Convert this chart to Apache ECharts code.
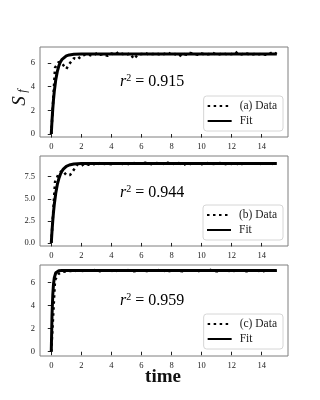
<!DOCTYPE html>
<html>
<head>
<meta charset="utf-8">
<script src="https://cdn.jsdelivr.net/npm/echarts@6/dist/echarts.min.js"></script>
<style>
  html, body { margin: 0; padding: 0; background: #fff; }
  #chart { width: 320px; height: 400px; }
</style>
</head>
<body>
<div id="chart"></div>
<script>
// sample times of the measured data
const tData = [0, 0.25, 0.5, 0.75, 1, 1.25, 1.5, 1.75, 2, 2.25, 2.5, 2.75, 3, 3.25, 3.5, 3.75,
  4, 4.25, 4.5, 4.75, 5, 5.25, 5.5, 5.75, 6, 6.25, 6.5, 6.75, 7, 7.25, 7.5, 7.75,
  8, 8.25, 8.5, 8.75, 9, 9.25, 9.5, 9.75, 10, 10.25, 10.5, 10.75, 11, 11.25, 11.5, 11.75,
  12, 12.25, 12.5, 12.75, 13, 13.25, 13.5, 13.75, 14, 14.25, 14.5, 14.75, 15];

const dataA = [0.0, 5.6, 6.1, 5.9, 5.5, 6.0, 6.4, 6.3, 6.6, 6.7, 6.7, 6.6, 6.8, 6.7, 6.75, 6.6,
  6.8, 6.7, 6.95, 6.75, 6.7, 6.8, 6.35, 6.7, 6.75, 6.85, 6.7, 6.75, 6.8, 6.7, 6.75, 6.9,
  6.7, 6.75, 6.55, 6.8, 6.7, 6.85, 6.75, 6.7, 6.8, 6.7, 6.75, 6.85, 6.7, 6.75, 6.8, 6.7,
  6.75, 6.95, 6.7, 6.75, 6.8, 6.7, 6.75, 6.7, 6.8, 6.7, 6.75, 6.95, 6.75];

const dataB = [0.0, 6.9, 7.9, 8.2, 7.7, 7.7, 8.3, 8.9, 8.75, 9.0, 8.85, 9.0, 8.8, 9.1, 8.95, 9.0,
  8.9, 9.0, 9.05, 8.95, 9.0, 8.85, 9.05, 9.0, 8.95, 9.1, 9.0, 8.9, 9.05, 9.0, 8.95, 9.1,
  8.9, 9.0, 9.05, 8.8, 9.0, 8.95, 9.05, 9.0, 8.9, 9.1, 9.0, 8.95, 9.0, 9.05, 8.9, 9.0,
  8.95, 9.1, 8.8, 9.0, 9.05, 8.95, 9.0, 9.05, 8.9, 9.0, 9.05, 8.95, 9.0];

const dataC = [0.0, 6.2, 6.75, 6.9, 6.95, 7.0, 6.95, 7.05, 7.0, 6.95, 7.05, 7.0, 7.1, 6.95, 7.0, 7.05,
  7.0, 6.95, 7.05, 7.0, 7.1, 7.0, 6.95, 7.0, 7.05, 7.0, 6.95, 7.05, 7.0, 7.1, 7.0, 6.95,
  7.0, 7.05, 7.0, 6.95, 7.05, 7.0, 7.0, 6.95, 7.05, 7.0, 7.1, 7.0, 6.95, 7.0, 7.05, 7.0,
  6.95, 7.0, 7.05, 7.0, 6.95, 7.0, 7.05, 7.0, 6.95, 7.0, 7.05, 7.0, 7.0];

// fitted curves
const tFit = [0, 0.05, 0.1, 0.15, 0.2, 0.3, 0.4, 0.5, 0.6, 0.7, 0.8, 1.0, 1.2, 1.5, 2, 3, 15];
const fitA = [0, 1.17, 2.13, 2.93, 3.59, 4.59, 5.27, 5.74, 6.06, 6.28, 6.43, 6.60, 6.68, 6.73, 6.75, 6.75, 6.75];
const fitB = [0, 1.37, 2.53, 3.51, 4.35, 5.65, 6.60, 7.27, 7.76, 8.11, 8.36, 8.67, 8.83, 8.94, 8.99, 9.0, 9.0];
const fitC = [0, 3.17, 4.91, 5.86, 6.38, 6.83, 6.96, 7.0, 7.01, 7.02, 7.02, 7.02, 7.02, 7.02, 7.02, 7.02, 7.02];

const r2 = ['0.915', '0.944', '0.959'];
const dataNames = ['(a) Data', '(b) Data', '(c) Data'];

const xTicks = [0, 2, 4, 6, 8, 10, 12, 14];
const yTicksA = [0, 2, 4, 6];
const yTicksB = [0, 2.5, 5, 7.5];
const yTicksC = [0, 2, 4, 6];

const serif = 'Liberation Serif';
const pair = (xs, ys) => xs.map((x, i) => [x, ys[i]]);

const panels = [
  { top: 47, height: 90, ymin: -0.25, ymax: 7.35, ticks: yTicksA, fmt: v => String(v), data: dataA, fit: fitA, legTop: 96, r2y: 82 },
  { top: 156, height: 90, ymin: -0.35, ymax: 9.85, ticks: yTicksB, fmt: v => v.toFixed(1), data: dataB, fit: fitB, legTop: 205, r2y: 193 },
  { top: 265, height: 91, ymin: -0.37, ymax: 7.5, ticks: yTicksC, fmt: v => String(v), data: dataC, fit: fitC, legTop: 314, r2y: 301 }
];

const chart = echarts.init(document.getElementById('chart'));

const grid = [], xAxis = [], yAxis = [], series = [], legend = [], graphic = [];
panels.forEach((p, i) => {
  grid.push({ left: 40, width: 248, top: p.top, height: p.height, show: true, borderColor: '#7f7f7f', borderWidth: 1 });
  xAxis.push({
    type: 'value', gridIndex: i, min: -0.75, max: 15.75,
    axisLine: { show: false },
    splitLine: { show: false },
    axisTick: { show: true, customValues: xTicks, length: 3.5, lineStyle: { color: '#222' } },
    axisLabel: { customValues: xTicks, fontFamily: serif, fontSize: 8.5, color: '#222', margin: 5 }
  });
  yAxis.push({
    type: 'value', gridIndex: i, min: p.ymin, max: p.ymax,
    axisLine: { show: false },
    splitLine: { show: false },
    axisTick: { show: true, customValues: p.ticks, length: 3.5, lineStyle: { color: '#222' } },
    axisLabel: { customValues: p.ticks, formatter: p.fmt, fontFamily: serif, fontSize: 8.5, color: '#222', margin: 5 }
  });
  series.push({
    name: dataNames[i], type: 'line', xAxisIndex: i, yAxisIndex: i, color: '#000',
    data: pair(tData, p.data), showSymbol: false, symbol: 'none',
    lineStyle: { color: '#000', width: 2.5, type: [2.5, 3.5] }
  });
  series.push({
    name: 'Fit', type: 'line', xAxisIndex: i, yAxisIndex: i, color: '#000',
    data: pair(tFit, p.fit), showSymbol: false, symbol: 'none',
    lineStyle: { color: '#000', width: 3 }
  });
  legend.push({
    data: [dataNames[i], 'Fit'], orient: 'vertical', right: 37, top: p.legTop,
    itemWidth: 24, itemHeight: 12, itemGap: 3,
    itemStyle: { color: 'rgba(0,0,0,0)', borderWidth: 0 },
    padding: [4, 6, 4, 3], borderColor: '#d6d6d6', borderWidth: 1, borderRadius: 3,
    backgroundColor: '#fff',
    textStyle: { fontFamily: serif, fontSize: 11.5, color: '#222', padding: [0, 0, 0, 3] }
  });
  graphic.push({
    type: 'text', left: 120, top: p.r2y - 9,
    style: {
      text: '{i|r}{s|2}{n| = ' + r2[i] + '}',
      rich: {
        i: { fontFamily: serif, fontStyle: 'italic', fontSize: 16, color: '#111', lineHeight: 18 },
        s: { fontFamily: serif, fontSize: 10, color: '#111', verticalAlign: 'top', lineHeight: 10 },
        n: { fontFamily: serif, fontSize: 16, color: '#111', lineHeight: 18 }
      }
    }
  });
});

// axis titles
graphic.push({
  type: 'text', x: 20, y: 101, rotation: Math.PI / 2,
  style: { text: 'S', fontFamily: serif, fontStyle: 'italic', fontSize: 19, fill: '#111', align: 'center', verticalAlign: 'middle' }
});
graphic.push({
  type: 'text', x: 23, y: 91, rotation: Math.PI / 2,
  style: { text: 'f', fontFamily: serif, fontStyle: 'italic', fontSize: 12, fill: '#111', align: 'center', verticalAlign: 'middle' }
});
graphic.push({
  type: 'text', x: 163, y: 377,
  style: { text: 'time', fontFamily: serif, fontWeight: 'bold', fontSize: 19, fill: '#111', align: 'center', verticalAlign: 'middle' }
});

chart.setOption({
  animation: false,
  backgroundColor: '#fff',
  grid, xAxis, yAxis, series, legend, graphic
});
</script>
</body>
</html>
